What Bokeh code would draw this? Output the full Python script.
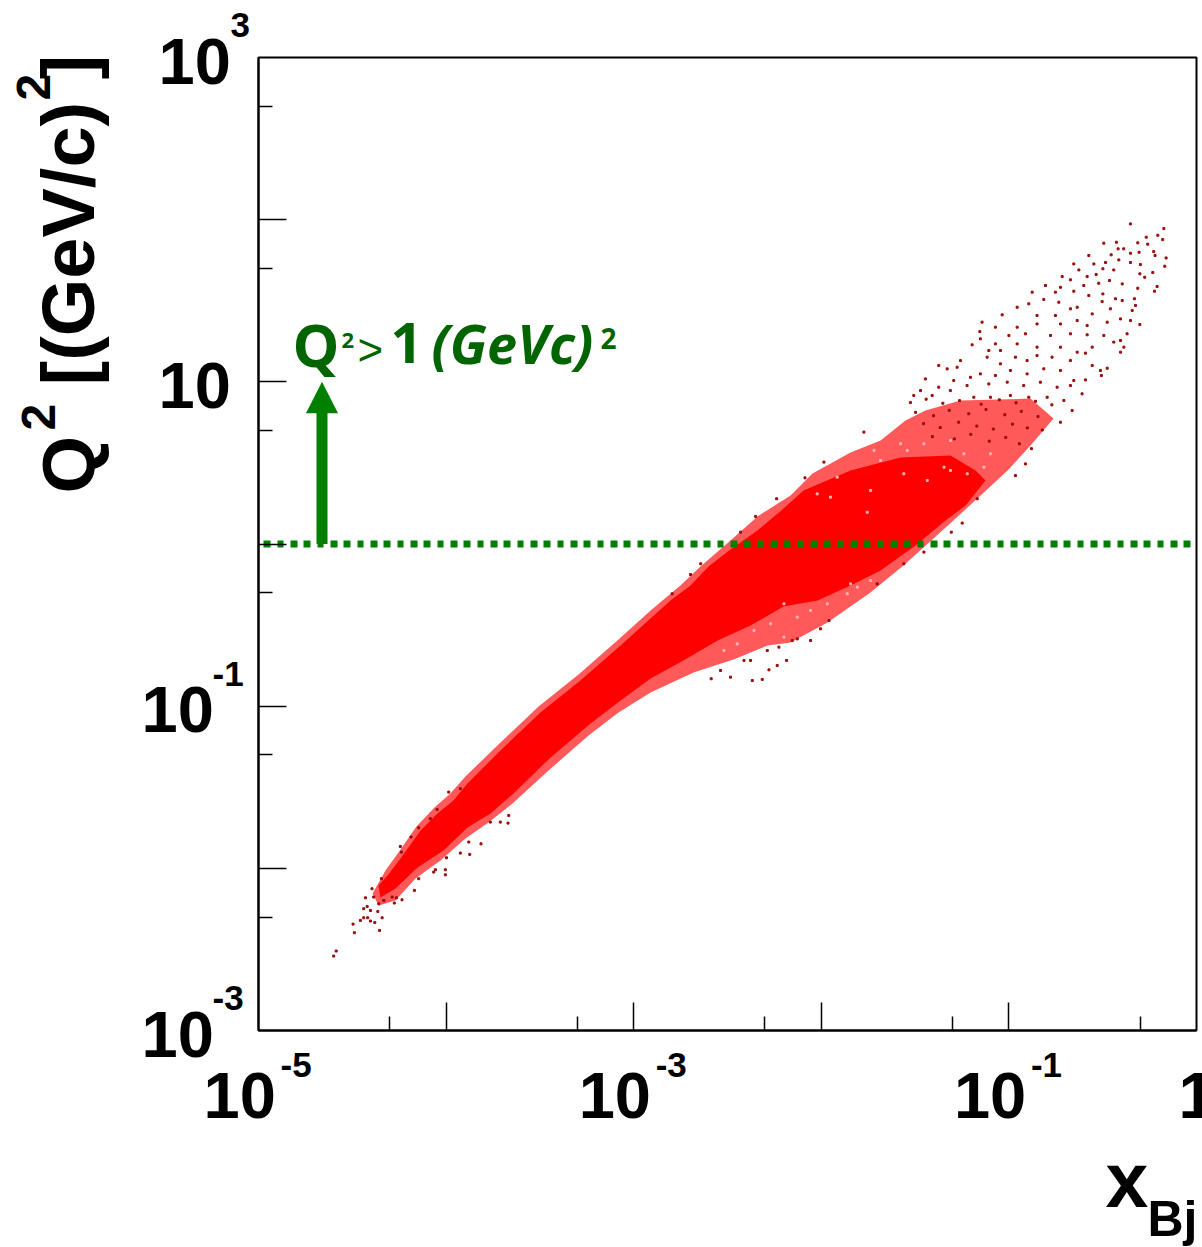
import numpy as np
from bokeh.plotting import figure
from bokeh.models import Range1d, FixedTicker, Label
from bokeh.embed import file_html
from bokeh.resources import INLINE

# Values, as decades: log10(x_Bj), log10(Q^2)
x_limits_exp = [-5, 0]
y_limits_exp = [-3, 3]
x_major_exp = [-4, -3, -2, -1]
x_minor_exp = [-4.301, -3.301, -2.301, -1.301, -0.301]
y_major_exp = [2, 1, 0, -1, -2]
y_minor_exp = [2.699, 1.699, 0.699, -0.301, -1.301, -2.301]

x_tick_labels = [(-5, "10", "-5"), (-3, "10", "-3"), (-1, "10", "-1"), (0, "1", "")]
y_tick_labels = [(3, "10", "3"), (1, "10", ""), (-1, "10", "-1"), (-3, "10", "-3")]

cut_q2 = 1.0
arrow_log_x = -4.6615
arrow_shaft_log_q2 = [0.0, 0.81]
arrow_head_log_x = [-4.747, -4.576, -4.6615]
arrow_head_log_q2 = [0.807, 0.807, 1.0]

# Dense core of the population (outline)
core_log_x = [-4.360, -4.312, -4.243, -4.136, -4.046, -3.961, -3.886, -3.710, -3.497, -3.284, -3.070, -2.910,
              -2.804, -2.697, -2.601, -2.484, -2.340, -2.201, -2.095, -1.844, -1.578, -1.311, -1.178, -1.125,
              -1.231, -1.338, -1.498, -1.684, -1.844, -2.020, -2.201, -2.377, -2.553, -2.735, -2.910, -3.070,
              -3.230, -3.443, -3.641, -3.763, -3.886, -4.014, -4.152, -4.270, -4.350]
core_log_q2 = [-2.106, -2.044, -1.939, -1.767, -1.662, -1.582, -1.477, -1.273, -1.039, -0.842, -0.626, -0.459,
               -0.348, -0.256, -0.139, -0.034, 0.083, 0.219, 0.330, 0.453, 0.533, 0.546, 0.453, 0.392,
               0.237, 0.145, -0.009, -0.163, -0.256, -0.348, -0.385, -0.503, -0.595, -0.718, -0.829, -0.965,
               -1.107, -1.316, -1.538, -1.662, -1.748, -1.890, -1.995, -2.124, -2.180]

# Speckled outer zone (outline)
halo_log_x = [-4.392, -4.323, -4.254, -4.158, -4.062, -3.977, -3.897, -3.721, -3.507, -3.294, -3.081, -2.910,
              -2.751, -2.644, -2.484, -2.340, -2.164, -2.047, -1.844, -1.684, -1.551, -1.445, -1.258, -0.885,
              -0.762, -0.885, -1.007, -1.151, -1.349, -1.562, -1.738, -1.967, -2.164, -2.287, -2.468, -2.681,
              -2.910, -3.081, -3.241, -3.454, -3.646, -3.774, -3.897, -4.030, -4.163, -4.270, -4.360]
halo_log_q2 = [-2.155, -2.013, -1.902, -1.742, -1.625, -1.538, -1.434, -1.236, -1.002, -0.805, -0.589, -0.410,
               -0.256, -0.139, 0.022, 0.170, 0.299, 0.435, 0.564, 0.638, 0.762, 0.823, 0.885, 0.897,
               0.774, 0.607, 0.453, 0.299, 0.089, -0.133, -0.299, -0.484, -0.607, -0.626, -0.712, -0.792,
               -0.916, -1.039, -1.181, -1.397, -1.600, -1.717, -1.816, -1.952, -2.063, -2.198, -2.229]

# Individually readable events
events = [
    (-0.352,1.974),(-0.174,1.945),(-0.206,1.904),(-0.180,1.877),(-0.268,1.892),(-0.313,1.857),(-0.260,1.849),
    (-0.427,1.861),(-0.494,1.855),(-0.418,1.820),(-0.388,1.820),(-0.228,1.803),(-0.221,1.779),(-0.306,1.799),
    (-0.352,1.793),(-0.162,1.764),(-0.169,1.713),(-0.574,1.779),(-0.455,1.783),(-0.414,1.752),(-0.485,1.736),
    (-0.352,1.736),(-0.299,1.723),(-0.441,1.690),(-0.654,1.727),(-0.547,1.727),(-0.499,1.697),(-0.233,1.674),
    (-0.276,1.645),(-0.302,1.666),(-0.627,1.690),(-0.535,1.662),(-0.716,1.649),(-0.583,1.649),(-0.464,1.625),
    (-0.210,1.588),(-0.224,1.559),(-0.396,1.604),(-0.672,1.629),(-0.805,1.594),(-0.725,1.583),(-0.601,1.594),
    (-0.521,1.608),(-0.313,1.577),(-0.876,1.553),(-0.752,1.553),(-0.654,1.559),(-0.574,1.532),(-0.499,1.542),
    (-0.432,1.512),(-0.331,1.512),(-0.814,1.508),(-0.734,1.491),(-0.636,1.460),(-0.503,1.495),(-0.396,1.501),
    (-0.325,1.471),(-0.343,1.440),(-0.956,1.460),(-0.894,1.481),(-0.850,1.409),(-0.752,1.409),(-0.672,1.450),
    (-0.556,1.419),(-0.459,1.450),(-0.405,1.388),(-0.302,1.353),(-1.036,1.413),(-1.143,1.368),(-1.072,1.337),
    (-0.956,1.337),(-0.850,1.357),(-0.725,1.357),(-0.636,1.378),(-0.583,1.347),(-0.476,1.368),(-0.352,1.378),
    (-0.370,1.296),(-1.155,1.310),(-1.000,1.286),(-0.912,1.296),(-0.778,1.286),(-0.672,1.296),(-0.583,1.290),
    (-0.494,1.286),(-0.405,1.255),(-0.387,1.214),(-1.152,1.265),(-1.196,1.228),(-1.072,1.234),(-0.956,1.234),
    (-0.850,1.214),(-0.725,1.214),(-0.636,1.183),(-0.556,1.214),(-0.441,1.245),(-0.405,1.183),
    (-1.258,1.131),(-1.374,1.101),(-1.445,1.018),(-1.329,1.080),(-1.276,1.090),(-1.107,1.193),(-1.045,1.193),
    (-1.116,1.152),(-1.045,1.111),(-0.965,1.152),(-0.903,1.131),(-0.850,1.162),(-0.770,1.152),(-0.672,1.131),
    (-0.592,1.177),(-0.556,1.101),(-0.512,1.070),(-0.476,1.084),(-0.507,1.039),(-0.592,1.012),(-0.654,1.008),
    (-0.725,1.070),(-0.814,1.080),(-0.903,1.049),(-0.992,1.070),(-1.072,1.039),(-1.152,1.049),(-1.205,1.028),
    (-1.294,1.008),(-1.374,0.967),(-1.471,0.946),(-1.507,0.916),(-1.409,0.916),(-1.312,0.946),(-1.223,0.977),
    (-1.107,0.987),(-1.009,0.998),(-0.921,0.977),(-0.832,0.998),(-0.743,0.967),(-0.672,0.977),(-0.610,0.926),
    (-0.663,0.823),(-0.725,0.751),(-0.707,0.885),(-0.796,0.905),(-0.894,0.905),(-0.992,0.916),(-1.098,0.905),
    (-1.187,0.905),(-0.912,0.494),(-0.965,0.422),
    (-1.525,0.872),(-1.441,0.893),(-1.352,0.868),(-1.263,0.884),(-1.148,0.862),(-1.051,0.889),(-0.962,0.871),
    (-0.858,0.880),(-0.771,0.858),(-1.498,0.812),(-1.402,0.791),(-1.318,0.824),(-1.214,0.803),(-1.122,0.829),
    (-1.022,0.797),(-0.934,0.818),(-0.845,0.786),(-1.455,0.742),(-1.366,0.718),(-1.268,0.751),(-1.171,0.727),
    (-1.083,0.709),(-0.981,0.739),(-0.902,0.716),(-0.822,0.703),(-1.408,0.662),(-1.291,0.648),(-1.203,0.676),
    (-1.105,0.634),(-1.017,0.657),(-0.944,0.618),(-0.880,0.588),
    (-4.599,-2.541),(-4.586,-2.510),(-4.496,-2.344),(-4.489,-2.397),(-4.355,-2.383),(-4.457,-2.321),(-4.439,-2.305),
    (-4.418,-2.305),(-4.403,-2.325),(-4.380,-2.334),(-4.341,-2.305),(-4.439,-2.249),(-4.421,-2.235),(-4.403,-2.260),
    (-4.364,-2.266),(-4.430,-2.182),(-4.395,-2.126),(-4.386,-2.177),(-4.359,-2.219),(-4.345,-2.064),(-4.332,-2.198),
    (-4.288,-2.177),(-4.265,-2.182),(-4.276,-2.214),(-4.235,-2.194),(-4.169,-2.136),(-4.146,-2.064),(-4.066,-2.023),
    (-4.004,-2.009),(-4.004,-2.040),(-4.057,-2.009),(-3.998,-1.935),(-3.924,-1.906),(-3.874,-1.914),(-3.814,-1.849),
    (-3.879,-1.838),(-3.764,-1.715),(-3.711,-1.715),(-3.670,-1.721),(-3.666,-1.674),(-4.244,-1.865),(-4.238,-1.900),
    (-4.187,-1.807),(-4.146,-1.750),(-4.084,-1.694),(-4.048,-1.637),(-3.986,-1.530),(-3.924,-1.509),
    (-2.315,-0.835),(-2.368,-0.842),(-2.484,-0.821),(-2.537,-0.780),(-2.587,-0.831),(-2.412,-0.718),(-2.377,-0.718),
    (-2.279,-0.776),(-2.235,-0.749),(-2.185,-0.718),(-2.226,-0.636),(-2.288,-0.657),(-2.155,-0.595),(-2.128,-0.585),
    (-2.057,-0.595),(-2.004,-0.523),(-1.959,-0.472),(-1.702,-0.246),(-1.560,-0.122),(-1.453,-0.050),(-1.307,0.073),
    (-1.249,0.129),(-1.169,0.279),(-2.238,0.279),(-2.087,0.408),(-1.986,0.505),(-1.773,0.690),(-2.430,0.073),
    (-2.350,0.170),(-2.643,-0.122),(-2.697,-0.188),(-2.795,-0.307),
]

# Small unfilled flecks inside the cloud
flecks = [
    (-1.755,0.196),(-1.542,0.577),(-1.577,0.618),(-1.453,0.618),(-1.311,0.638),(-1.240,0.556),(-1.346,0.474),
    (-1.684,0.515),(-1.719,0.577),(-1.915,0.412),(-2.022,0.309),(-1.951,0.289),(-1.737,0.330),(-1.560,0.433),
    (-1.435,0.392),(-1.311,0.453),(-1.222,0.433),(-1.133,0.474),(-1.098,0.556),(-2.199,-0.369),(-2.128,-0.451),
    (-2.057,-0.410),(-1.968,-0.369),(-1.862,-0.307),(-1.808,-0.266),(-1.844,-0.246),(-1.737,-0.225),(-2.270,-0.492),
    (-2.359,-0.533),(-2.448,-0.616),(-2.519,-0.657),(-2.199,-0.574),
]

RED = "#ff0000"
DARK = "#9a0c0c"
FLECK = "#ffb4b4"
GREEN = "#007f00"
TXT_GREEN = "#006400"
SANS = "Liberation Sans"
OPEN = "Open Sans"
BASELINE_SHIFT = {SANS: 0.36, OPEN: 0.41}

p = figure(frame_width=938, frame_height=973, x_axis_type="log", y_axis_type="log",
           x_range=Range1d(10.0 ** x_limits_exp[0], 10.0 ** x_limits_exp[1]),
           y_range=Range1d(10.0 ** y_limits_exp[0], 10.0 ** y_limits_exp[1]),
           min_border_left=258, min_border_right=6, min_border_top=57, min_border_bottom=217,
           toolbar_location=None, output_backend="svg", background_fill_color="white")
p.grid.visible = False
p.outline_line_color = "black"
p.outline_line_width = 2

for ax, maj, mnr in ((p.xaxis[0], x_major_exp, x_minor_exp), (p.yaxis[0], y_major_exp, y_minor_exp)):
    ax.ticker = FixedTicker(ticks=[10.0 ** e for e in maj], minor_ticks=[10.0 ** e for e in mnr])
    ax.major_tick_in = 28
    ax.major_tick_out = 0
    ax.minor_tick_in = 14
    ax.minor_tick_out = 0
    ax.major_tick_line_width = 1.5
    ax.minor_tick_line_width = 1.5
    ax.major_tick_line_color = "black"
    ax.minor_tick_line_color = "black"
    ax.axis_line_width = 2
    ax.major_label_text_color = None
    ax.major_label_text_font_size = "1px"

halo_x = 10.0 ** np.array(halo_log_x)
halo_y = 10.0 ** np.array(halo_log_q2)
core_x = 10.0 ** np.array(core_log_x)
core_y = 10.0 ** np.array(core_log_q2)
ev = np.array(events)
fl = np.array(flecks)

p.patch(halo_x, halo_y, fill_color=RED, fill_alpha=0.65, line_color=None)
p.patch(core_x, core_y, fill_color=RED, line_color=None)
p.scatter(10.0 ** fl[:, 0], 10.0 ** fl[:, 1], marker="square", size=2, color=FLECK)
p.scatter(10.0 ** ev[:, 0], 10.0 ** ev[:, 1], marker="square", size=2, color=DARK)

p.line([10.0 ** x_limits_exp[0], 10.0 ** x_limits_exp[1]], [cut_q2, cut_q2], line_color=GREEN,
       line_width=7, line_dash="7 6 7 7 6 7", line_dash_offset=8)
p.line([10.0 ** arrow_log_x] * 2, [10.0 ** v for v in arrow_shaft_log_q2], line_color=GREEN, line_width=11)
p.patch([10.0 ** v for v in arrow_head_log_x], [10.0 ** v for v in arrow_head_log_q2],
        fill_color=GREEN, line_color=None)


def put(text, x, y, dx, dy, size, color="black", font=SANS, style="bold", angle=0.0):
    shift = BASELINE_SHIFT[font] * size
    if angle:
        dx -= shift
    else:
        dy += shift
    p.add_layout(Label(x=x, y=y, x_offset=dx, y_offset=dy, text=text, text_font=font, text_font_style=style,
                       text_font_size=f"{size}px", text_color=color, text_align="left",
                       text_baseline="alphabetic", angle=angle), "below")


x_bottom = 10.0 ** y_limits_exp[0]
x_left = 10.0 ** x_limits_exp[0]
for e, base, sup in x_tick_labels:
    dx = -55 if base == "10" else -18
    put(base, 10.0 ** e, x_bottom, dx, -88, 65)
    if sup:
        put(sup, 10.0 ** e, x_bottom, 22, -47, 35)
for e, base, sup in y_tick_labels:
    neg = sup.startswith("-")
    put(base, x_left, 10.0 ** e, -117 if neg else -100, -27, 65)
    if sup:
        put(sup, x_left, 10.0 ** e, -46 if neg else -28, 20, 35)

ROT = np.pi / 2
put("Q", x_left, x_bottom, -163, 537, 74, angle=ROT)
put("2", x_left, x_bottom, -203, 600, 48, angle=ROT)
put("[(GeV/c)", x_left, x_bottom, -163, 645, 74, angle=ROT)
put("2", x_left, x_bottom, -208, 930, 48, angle=ROT)
put("]", x_left, x_bottom, -163, 951, 74, angle=ROT)

put("x", x_left, x_bottom, 847, -177, 77)
put("Bj", x_left, x_bottom, 889, -206, 50)

put("Q", x_left, x_bottom, 34, 662, 59, color=TXT_GREEN, font=OPEN)
put("2", x_left, x_bottom, 83, 681, 22, color=TXT_GREEN, font=OPEN)
put(">", x_left, x_bottom, 99, 665, 44, color=TXT_GREEN, font=SANS, style="normal")
put("1", x_left, x_bottom, 132, 665, 56, color=TXT_GREEN, font=OPEN)
put("(GeVc)", x_left, x_bottom, 173, 665, 54, color=TXT_GREEN, font=OPEN, style="bold italic")
put("2", x_left, x_bottom, 342, 681, 28, color=TXT_GREEN, font=OPEN)

open("out.html", "w").write(file_html(p, INLINE))
